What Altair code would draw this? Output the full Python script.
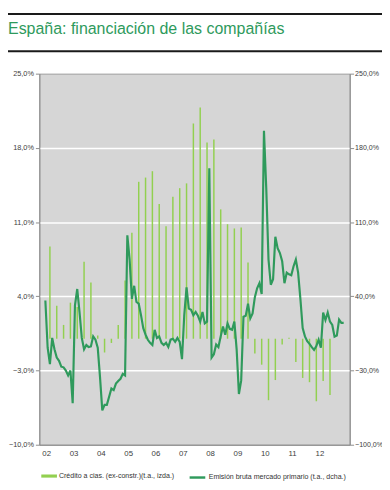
import altair as alt
import pandas as pd

title_text = "España: financiación de las compañías"
bar_label = "Crédito a cias. (ex-constr.)(t.a., izda.)"
line_label = "Emisión bruta mercado primario (t.a., dcha.)"

years = list(range(2002, 2013))
left_ticks = [-10, -3, 4, 11, 18, 25]
right_ticks = [-100, -30, 40, 110, 180, 250]

# quarterly credit growth (%), 2002Q1 .. 2012Q2
credit_q = [
    8.7, 3.1, 1.3, 3.4,
    3.0, 7.25, 5.3, 0.3,
    -1.3, -0.4, 1.3, 5.5,
    10.0, 14.8, 15.2, 15.8,
    12.7, 10.6, 13.4, 14.2,
    14.65, 20.3, 21.8, 18.5,
    18.8, 12.2, 10.8, 10.4,
    10.5, 7.2, -1.4, -2.45,
    -5.8, -3.9, -0.55, 0.1,
    -2.2, -3.7, -4.1, -5.9,
    -4.0, -5.3,
]

# monthly gross issuance growth (%), 2002-01 .. 2012-12
issuance_m = [
    36, -8.5, -24, 0.7, -10, -17.8, -20.8, -26.4, -27, -30, -34.7, -30,
    -60.9, 31.4, 46.9, 25, 0.7, -10, -6, -7.9, -7.3, 2.2, -0.9, -8.5,
    -36.2, -67.6, -62.4, -62.4, -54.7, -47, -48.5, -42.4, -39.9, -37.8, -33.2, -34.7,
    97.6, 74.6, 37.6, 49.9, 34.6, 33, 22.2, 10, 3.8, -1, -3.9, -6,
    8.4, 0.7, 2.2, -3.9, -6, -3.9, -7.9, -0.9, 0, -3, 0.7, -3,
    -19.3, 22.2, 48.4, 28.4, 27.3, 22.2, 25.3, 21.6, 16.1, 25.3, 14.5, 16.1,
    160.7, -17.8, -14.7, -5.5, -7.9, 2.2, 11.5, 3.8, 14.5, 9.3, 8.4, 16.1,
    -10, -52.2, -39.3, 20.7, 21.6, 33, 19.2, 23.8, 39.2, 47.5, 52.4, 42.2,
    196.1, 142.3, 74.6, 50.9, 56.1, 96.1, 85.4, 80.8, 73, 52.4, 62.3, 60.7,
    59.8, 68.4, 74.6, 62.3, 37.6, 10, 2.2, -2.4, -4.8, -7.9, -10.6, -6.9,
    -0.9, -8.5, 24.7, 17.6, 24.7, 16.1, 13, 2, 3, 18, 15, 15,
]

bars_df = pd.DataFrame({
    "t": [2002 + (3 * k + 2.5) / 12 for k in range(len(credit_q))],
    "v": credit_q,
    "serie": bar_label,
})
line_df = pd.DataFrame({
    "t": [2002 + (i + 0.5) / 12 for i in range(len(issuance_m))],
    "v": issuance_m,
    "serie": line_label,
})

FONT = "Liberation Sans, Arial, sans-serif"
AXIS_GREY = "#8c8c8c"
pct_expr = "replace(format(datum.value, '.1f'), '.', ',') + '%'"


def x_enc():
    return alt.X(
        "t:Q",
        scale=alt.Scale(domain=[2002, 2013], nice=False, zero=False),
        axis=alt.Axis(
            values=years,
            labelExpr="(datum.value < 2010 ? '0' : '') + (datum.value - 2000)",
            ticks=False,
            grid=False,
            labelOffset=2,
            labelPadding=5,
            labelFontSize=8,
            title=None,
        ),
    )


bars = alt.Chart(bars_df).mark_bar(size=1.5).encode(
    x=x_enc(),
    y=alt.Y(
        "v:Q",
        scale=alt.Scale(domain=[-10, 25], nice=False, zero=False),
        axis=alt.Axis(
            values=left_ticks,
            labelExpr=pct_expr,
            grid=True,
            gridColor="white",
            gridWidth=1.5,
            gridOpacity={"condition": {"test": "datum.value == 25 || datum.value == -10", "value": 0}, "value": 1},
            tickSize=4,
            labelPadding=2,
            title=None,
        ),
    ),
    y2=alt.datum(0),
    fill=alt.Fill(
        "serie:N",
        scale=alt.Scale(domain=[bar_label], range=["#92d050"]),
        legend=alt.Legend(
            orient="none", legendX=2, legendY=403,
            symbolType="M-1,-0.2H1V0.2H-1Z", symbolSize=256, symbolStrokeWidth=0,
            labelOffset=2, padding=0, title=None, labelLimit=300,
        ),
    ),
)

line = alt.Chart(line_df).mark_line(strokeWidth=2.2).encode(
    x=x_enc(),
    y=alt.Y(
        "v:Q",
        scale=alt.Scale(domain=[-100, 250], nice=False, zero=False),
        axis=alt.Axis(
            orient="right",
            values=right_ticks,
            labelExpr=pct_expr,
            grid=False,
            tickSize=4,
            labelPadding=1,
            labelFontSize=7.2,
            title=None,
        ),
    ),
    stroke=alt.Stroke(
        "serie:N",
        scale=alt.Scale(domain=[line_label], range=["#2f9a5c"]),
        legend=alt.Legend(
            orient="none", legendX=152, legendY=403,
            symbolType="stroke", symbolSize=256, symbolStrokeWidth=2.5,
            labelOffset=2, padding=0, title=None, labelLimit=300,
        ),
    ),
)

one = pd.DataFrame({"k": [0]})
rule_top = alt.Chart(one).mark_rule(color="#1a1a1a", strokeWidth=2).encode(
    x=alt.value(-32), x2=alt.value(352), y=alt.value(-61)
)
rule_mid = alt.Chart(one).mark_rule(color="#1a1a1a", strokeWidth=2).encode(
    x=alt.value(-32), x2=alt.value(352), y=alt.value(-23)
)

chart = (
    alt.layer(bars, line, rule_top, rule_mid)
    .resolve_scale(y="independent", fill="independent", stroke="independent")
    .properties(
        width=317,
        height=379,
        padding={"left": 32, "top": 62, "right": 33, "bottom": 33},
        autosize=alt.AutoSizeParams(type="none"),
        title=alt.TitleParams(
            text=title_text,
            anchor="start",
            frame="group",
            orient="top",
            baseline="alphabetic",
            dx=-32,
            dy=38,
            offset=0,
            font=FONT,
            fontSize=16.3,
            fontWeight="normal",
            color="#2e9a5c",
        ),
    )
    .configure_view(fill="#d6d6d6", stroke="#9a9a9a", strokeWidth=1)
    .configure_axis(
        labelFont=FONT,
        labelFontSize=7.5,
        labelColor="#404040",
        domainColor=AXIS_GREY,
        tickColor=AXIS_GREY,
    )
    .configure_legend(labelFont=FONT, labelFontSize=7.2, labelColor="#333333")
)

chart.save("out.html", embed_options={"renderer": "svg", "actions": False})
